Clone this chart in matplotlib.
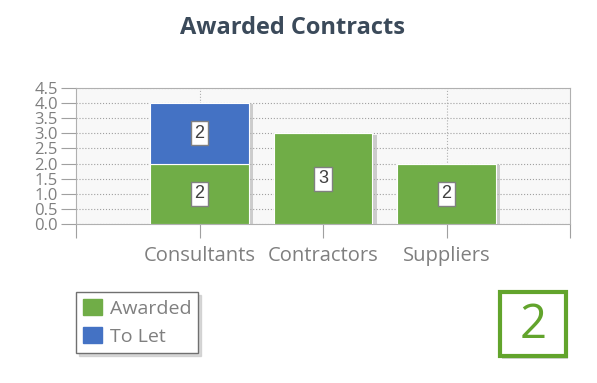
import matplotlib

matplotlib.use("Agg")
import matplotlib.pyplot as plt
from matplotlib.patches import Rectangle, Patch
import matplotlib.patheffects as pe

# data
categories = ["Consultants", "Contractors", "Suppliers"]
awarded = [2, 3, 2]
to_let = [2, 0, 0]
y_ticks = [0.0, 0.5, 1.0, 1.5, 2.0, 2.5, 3.0, 3.5, 4.0, 4.5]
badge_value = "2"

GREEN = "#70AD47"
BLUE = "#4472C4"
GREY_TXT = "#7F7F7F"

plt.rcParams["font.family"] = ["Open Sans", "DejaVu Sans"]

fig = plt.figure(figsize=(5.97, 3.83), dpi=100)
W, H = 597, 383
ax = fig.add_axes([76 / W, 1 - 224 / H, (570 - 76) / W, (224 - 88) / H])
ax.set_facecolor("#F8F8F8")

xs = [i + 1 for i in range(len(categories))]
width = 0.8
shadow = dict(offset=(3, -1), shadow_rgbFace="#B0B0B0", alpha=0.6)
ax.bar(xs, awarded, width, color=GREEN, edgecolor="white", linewidth=0.8, zorder=3,
       path_effects=[pe.SimplePatchShadow(**shadow), pe.Normal()])
ax.bar(xs, to_let, width, bottom=awarded, color=BLUE, edgecolor="white", linewidth=0.8,
       zorder=3, path_effects=[pe.SimplePatchShadow(**shadow), pe.Normal()])

box = dict(boxstyle="square,pad=0.2", fc="white", ec="#808080", lw=1)
for x, a, t in zip(xs, awarded, to_let):
    if a:
        ax.text(x, a / 2, str(a), ha="center", va="center", fontsize=13, color="#404040",
                family=["Liberation Sans", "DejaVu Sans"], bbox=box, zorder=5)
    if t:
        ax.text(x, a + t / 2, str(t), ha="center", va="center", fontsize=13, color="#404040",
                family=["Liberation Sans", "DejaVu Sans"], bbox=box, zorder=5)

ax.set_xlim(0, 4)
ax.set_ylim(0, 4.5)
ax.set_yticks(y_ticks)
ax.set_yticklabels([f"{v:.1f}" for v in y_ticks], fontsize=12, color=GREY_TXT)
ax.set_xticks([0, 1, 2, 3, 4])
ax.set_xticklabels([""] + categories + [""], fontsize=14.5, color=GREY_TXT)
ax.tick_params(axis="y", length=11, color="#A0A0A0", pad=2)
ax.tick_params(axis="x", length=10, color="#A0A0A0", pad=6)
for s in ax.spines.values():
    s.set_color("#B0B0B0")
ax.grid(axis="y", linestyle=":", color="#A0A0A0", linewidth=0.8, zorder=0)
for gx in [1, 3]:
    ax.axvline(gx, linestyle=":", color="#B0B0B0", linewidth=0.8, zorder=0)
ax.set_axisbelow(True)

fig.text(293 / W, 1 - 28 / H, "Awarded Contracts", ha="center", va="center",
         fontsize=17, fontweight="bold", color="#3B4A5A")

# legend
handles = [Patch(color=GREEN, label="Awarded"), Patch(color=BLUE, label="To Let")]
leg = fig.legend(handles=handles, loc="upper left", bbox_to_anchor=(76 / W, 1 - 292 / H),
                 frameon=True, fancybox=False, shadow={"color": "#C8C8C8", "alpha": 0.7},
                 fontsize=14, handlelength=1.0, handleheight=0.9, handletextpad=0.4,
                 borderpad=0.35, labelspacing=0.5, borderaxespad=0)
leg.get_frame().set_edgecolor("#707070")
for t in leg.get_texts():
    t.set_color(GREY_TXT)

# badge
fig.patches.append(Rectangle((500 / W + 0.004, 1 - 356 / H - 0.008), 66 / W, 64 / H,
                             transform=fig.transFigure, fc="#AAAAAA", ec="none", alpha=0.5))
fig.patches.append(Rectangle((500 / W, 1 - 356 / H), 66 / W, 64 / H,
                             transform=fig.transFigure, fc="white", ec="#62A42C", lw=3))
fig.text(533 / W, 1 - 325 / H, badge_value, ha="center", va="center",
         fontsize=34, color="#62A42C")

fig.savefig("out.png", dpi=100)
